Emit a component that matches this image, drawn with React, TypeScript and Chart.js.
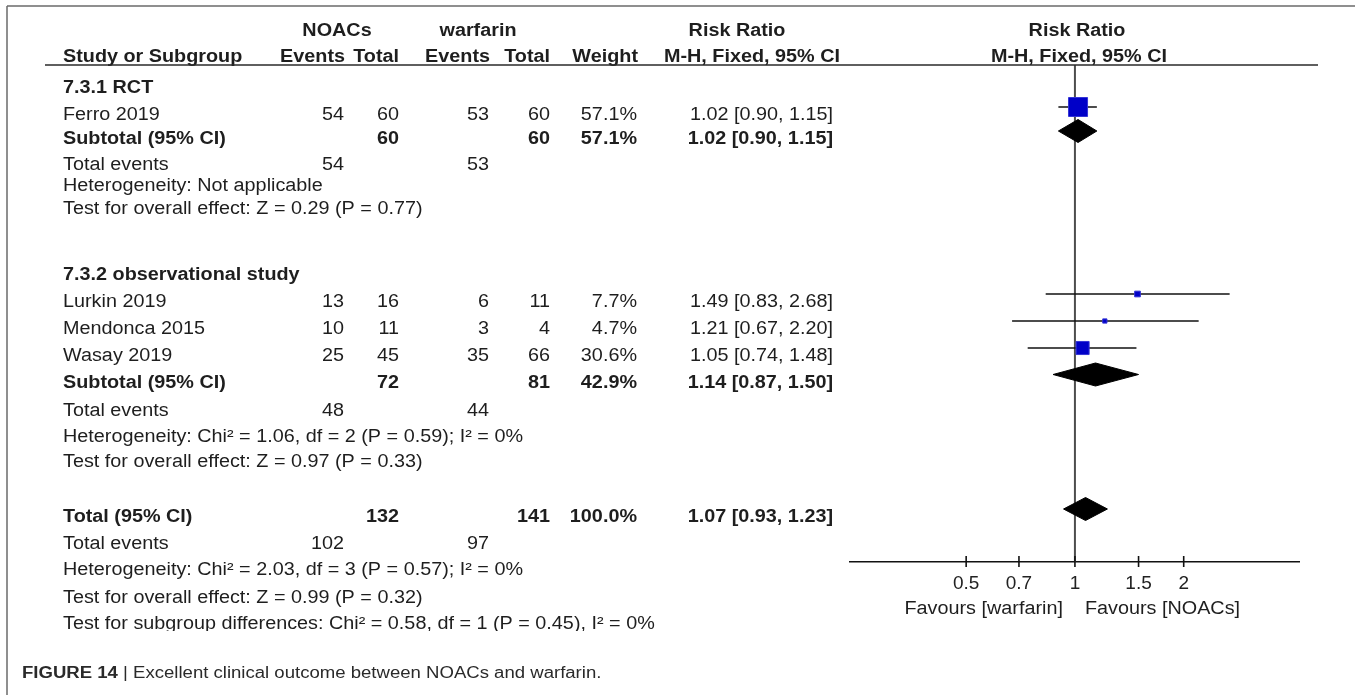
import React, { useEffect, useRef } from "react";
import { Chart, registerables } from "chart.js";

Chart.register(...registerables);

// ---------------- data ----------------
const studyNames = ["Ferro 2019", "Lurkin 2019", "Mendonca 2015", "Wasay 2019"];
const studyGroup = [0, 1, 1, 1];
const noacEvents = [54, 13, 10, 25];
const noacTotals = [60, 16, 11, 45];
const warfarinEvents = [53, 6, 3, 35];
const warfarinTotals = [60, 11, 4, 66];
const studyWeights = [57.1, 7.7, 4.7, 30.6];
const studyRR = [1.02, 1.49, 1.21, 1.05];
const studyLow = [0.9, 0.83, 0.67, 0.74];
const studyHigh = [1.15, 2.68, 2.2, 1.48];

const groupNames = ["7.3.1 RCT", "7.3.2 observational study"];
const groupNoacEvents = [54, 48];
const groupNoacTotals = [60, 72];
const groupWarfarinEvents = [53, 44];
const groupWarfarinTotals = [60, 81];
const groupWeights = [57.1, 42.9];
const groupRR = [1.02, 1.14];
const groupLow = [0.9, 0.87];
const groupHigh = [1.15, 1.5];
const groupHeterogeneity = [
  "Heterogeneity: Not applicable",
  "Heterogeneity: Chi² = 1.06, df = 2 (P = 0.59); I² = 0%",
];
const groupOverallTest = [
  "Test for overall effect: Z = 0.29 (P = 0.77)",
  "Test for overall effect: Z = 0.97 (P = 0.33)",
];

const totalNoac = [102, 132]; // events, total
const totalWarfarin = [97, 141]; // events, total
const totalWeight = [100.0];
const totalRR = [1.07, 0.93, 1.23]; // estimate, low, high
const totalTexts = [
  "Heterogeneity: Chi² = 2.03, df = 3 (P = 0.57); I² = 0%",
  "Test for overall effect: Z = 0.99 (P = 0.32)",
  "Test for subgroup differences: Chi² = 0.58, df = 1 (P = 0.45), I² = 0%",
];

const axisTicks = [0.5, 0.7, 1, 1.5, 2];
const axisLabels = ["Favours [warfarin]", "Favours [NOACs]"];
const caption = ["FIGURE 14", " | Excellent clinical outcome between NOACs and warfarin."];

// ---------------- layout (pixel rows, columns, styles) ----------------
const W = 1355;
const H = 695;
const Y_TOP = 65; // header rule / top of plot
const Y_AXIS = 562; // axis line
const AXIS_H = 40;
const X_MIN = 0.2385;
const X_MAX = 4.17;
const GROUP_HEADER_Y = [80, 266.5];
const STUDY_Y = [107, 294, 321, 348];
const GROUP_SUB_Y = [131, 374.5];
const GROUP_EVENTS_Y = [156.5, 403];
const GROUP_HET_Y = [178, 429];
const GROUP_TEST_Y = [200.5, 454];
const TOTAL_ROWS_Y = [509, 535.5, 562, 590, 616];
const TEXT_DY = 7;
const COL = { study: 63, noacEv: 344, noacTot: 399, warEv: 489, warTot: 550, weight: 637, rr: 833 };
const FONT = '"Liberation Sans", Arial, Helvetica, sans-serif';
const FS = 18;
const SX = 1.1;
const TXT = "#1e1e1e";
const DIAMOND_HALF = 11.5;

const rrText = (e: number, l: number, h: number) => `${e.toFixed(2)} [${l.toFixed(2)}, ${h.toFixed(2)}]`;
const pct = (w: number) => `${w.toFixed(1)}%`;
const squareSide = (w: number) => 19 * Math.pow(w / 57.1, 0.6);

function diamond(e: number, l: number, h: number, y: number) {
  return [
    { x: l, y },
    { x: e, y: y - DIAMOND_HALF },
    { x: h, y },
    { x: e, y: y + DIAMOND_HALF },
    { x: l, y },
  ];
}

const tablePlugin = {
  id: "forestTable",
  afterDraw(chart: any) {
    const ctx: CanvasRenderingContext2D = chart.ctx;
    const ys = chart.scales.y;
    const xs = chart.scales.x;
    const Y = (v: number) => ys.getPixelForValue(v);

    const text = (
      s: string,
      x: number,
      yc: number,
      align: CanvasTextAlign = "left",
      bold = false,
      size = FS,
      sx = SX,
      color = TXT
    ) => {
      ctx.save();
      ctx.font = `${bold ? "bold " : ""}${size}px ${FONT}`;
      ctx.fillStyle = color;
      ctx.textAlign = align;
      ctx.textBaseline = "alphabetic";
      ctx.translate(x, yc + (size * 0.716) / 2);
      ctx.scale(sx, 1);
      ctx.fillText(s, 0, 0);
      ctx.restore();
    };
    const line = (x1: number, y1: number, x2: number, y2: number, color: string, w: number) => {
      ctx.save();
      ctx.strokeStyle = color;
      ctx.lineWidth = w;
      ctx.beginPath();
      ctx.moveTo(x1, y1);
      ctx.lineTo(x2, y2);
      ctx.stroke();
      ctx.restore();
    };

    // frame
    line(7, 6, W, 6, "#6a6a6a", 1.5);
    line(7, 6, 7, H, "#6a6a6a", 1.5);

    // header
    const x1 = xs.getPixelForValue(1);
    text("NOACs", 337, 30, "center", true);
    text("warfarin", 478, 30, "center", true);
    text("Risk Ratio", 737, 30, "center", true);
    text("Risk Ratio", 1077, 30, "center", true);
    text("Study or Subgroup", COL.study, 56, "left", true);
    text("Events", COL.noacEv + 1, 56, "right", true);
    text("Total", COL.noacTot, 56, "right", true);
    text("Events", COL.warEv + 1, 56, "right", true);
    text("Total", COL.warTot, 56, "right", true);
    text("Weight", COL.weight + 1, 56, "right", true);
    text("M-H, Fixed, 95% CI", 752, 56, "center", true);
    text("M-H, Fixed, 95% CI", 1079, 56, "center", true);
    line(45, Y(Y_TOP), 1318, Y(Y_TOP), "#2a2a2a", 1.6);

    // groups
    groupNames.forEach((g, gi) => {
      text(g, COL.study, Y(GROUP_HEADER_Y[gi]) + TEXT_DY, "left", true);
      studyNames.forEach((s, si) => {
        if (studyGroup[si] !== gi) return;
        const yc = Y(STUDY_Y[si]) + TEXT_DY;
        text(s, COL.study, yc);
        text(String(noacEvents[si]), COL.noacEv, yc, "right");
        text(String(noacTotals[si]), COL.noacTot, yc, "right");
        text(String(warfarinEvents[si]), COL.warEv, yc, "right");
        text(String(warfarinTotals[si]), COL.warTot, yc, "right");
        text(pct(studyWeights[si]), COL.weight, yc, "right");
        text(rrText(studyRR[si], studyLow[si], studyHigh[si]), COL.rr, yc, "right");
      });
      const ys2 = Y(GROUP_SUB_Y[gi]) + TEXT_DY;
      text("Subtotal (95% CI)", COL.study, ys2, "left", true);
      text(String(groupNoacTotals[gi]), COL.noacTot, ys2, "right", true);
      text(String(groupWarfarinTotals[gi]), COL.warTot, ys2, "right", true);
      text(pct(groupWeights[gi]), COL.weight, ys2, "right", true);
      text(rrText(groupRR[gi], groupLow[gi], groupHigh[gi]), COL.rr, ys2, "right", true);
      const ye = Y(GROUP_EVENTS_Y[gi]) + TEXT_DY;
      text("Total events", COL.study, ye);
      text(String(groupNoacEvents[gi]), COL.noacEv, ye, "right");
      text(String(groupWarfarinEvents[gi]), COL.warEv, ye, "right");
      text(groupHeterogeneity[gi], COL.study, Y(GROUP_HET_Y[gi]) + TEXT_DY);
      text(groupOverallTest[gi], COL.study, Y(GROUP_TEST_Y[gi]) + TEXT_DY);
    });

    // overall
    const yt = Y(TOTAL_ROWS_Y[0]) + TEXT_DY;
    text("Total (95% CI)", COL.study, yt, "left", true);
    text(String(totalNoac[1]), COL.noacTot, yt, "right", true);
    text(String(totalWarfarin[1]), COL.warTot, yt, "right", true);
    text(pct(totalWeight[0]), COL.weight, yt, "right", true);
    text(rrText(totalRR[0], totalRR[1], totalRR[2]), COL.rr, yt, "right", true);
    const yte = Y(TOTAL_ROWS_Y[1]) + TEXT_DY;
    text("Total events", COL.study, yte);
    text(String(totalNoac[0]), COL.noacEv, yte, "right");
    text(String(totalWarfarin[0]), COL.warEv, yte, "right");
    text(totalTexts[0], COL.study, Y(TOTAL_ROWS_Y[2]) + TEXT_DY);
    text(totalTexts[1], COL.study, Y(TOTAL_ROWS_Y[3]) + TEXT_DY);
    // last line is clipped at its baseline in the original figure
    const yl = Y(TOTAL_ROWS_Y[4]) + TEXT_DY;
    ctx.save();
    ctx.beginPath();
    ctx.rect(0, 0, W, yl + (FS * 0.716) / 2 + 1.5);
    ctx.clip();
    text(totalTexts[2], COL.study, yl);
    ctx.restore();

    // axis tick marks
    xs.ticks.forEach((t: any) => {
      const px = xs.getPixelForValue(t.value);
      line(px, Y(Y_AXIS) - 6, px, Y(Y_AXIS) + 5, "#111", 1.6);
    });
    text(axisLabels[0], x1 - 12, 608, "right");
    text(axisLabels[1], x1 + 10, 608, "left");

    // caption
    ctx.save();
    const csz = 16;
    const csx = 1.16;
    ctx.font = `bold ${csz}px ${FONT}`;
    const bw = ctx.measureText(caption[0]).width * csx;
    ctx.restore();
    text(caption[0], 22, 672, "left", true, csz, csx, "#2a2a2a");
    text(caption[1], 22 + bw, 672, "left", false, csz, csx, "#2a2a2a");
  },
};

export default function App() {
  const ref = useRef<HTMLCanvasElement | null>(null);

  useEffect(() => {
    if (!ref.current) return;
    const datasets: any[] = [];

    // line of no effect
    datasets.push({
      data: [
        { x: 1, y: Y_TOP },
        { x: 1, y: Y_AXIS },
      ],
      showLine: true,
      borderColor: "#4d4d4d",
      borderWidth: 2,
      pointRadius: 0,
      order: 20,
    });

    // confidence intervals of studies
    studyNames.forEach((_, i) => {
      datasets.push({
        data: [
          { x: studyLow[i], y: STUDY_Y[i] },
          { x: studyHigh[i], y: STUDY_Y[i] },
        ],
        showLine: true,
        borderColor: "#111111",
        borderWidth: 1.6,
        pointRadius: 0,
        order: 10,
      });
    });

    // diamonds (subtotals and total)
    groupNames.forEach((_, g) => {
      datasets.push({
        data: diamond(groupRR[g], groupLow[g], groupHigh[g], GROUP_SUB_Y[g]),
        showLine: true,
        fill: "shape",
        backgroundColor: "#000000",
        borderColor: "#000000",
        borderWidth: 1,
        pointRadius: 0,
        order: 5,
      });
    });
    datasets.push({
      data: diamond(totalRR[0], totalRR[1], totalRR[2], TOTAL_ROWS_Y[0]),
      showLine: true,
      fill: "shape",
      backgroundColor: "#000000",
      borderColor: "#000000",
      borderWidth: 1,
      pointRadius: 0,
      order: 5,
    });

    // study squares
    datasets.push({
      data: studyRR.map((v, i) => ({ x: v, y: STUDY_Y[i] })),
      showLine: false,
      pointStyle: "rect",
      pointRadius: (c: any) => squareSide(studyWeights[c.dataIndex]) / (2 * Math.SQRT1_2),
      pointHoverRadius: (c: any) => squareSide(studyWeights[c.dataIndex]) / (2 * Math.SQRT1_2),
      backgroundColor: "#0000c8",
      borderColor: "#3535d6",
      borderWidth: 1,
      order: 1,
    });

    const chart = new Chart(ref.current, {
      type: "scatter",
      data: { datasets },
      options: {
        animation: false,
        responsive: false,
        maintainAspectRatio: false,
        devicePixelRatio: 1,
        events: [],
        layout: { padding: { left: 850, right: W - 1299, top: Y_TOP, bottom: H - Y_AXIS - AXIS_H } },
        plugins: { legend: { display: false }, tooltip: { enabled: false } },
        scales: {
          x: {
            type: "logarithmic",
            position: "bottom",
            min: X_MIN,
            max: X_MAX,
            afterBuildTicks: (s: any) => {
              s.ticks = axisTicks.map((v) => ({ value: v }));
            },
            afterFit: (s: any) => {
              s.height = AXIS_H;
            },
            grid: { display: false, drawTicks: false },
            border: { display: true, color: "#111111", width: 1.6 },
            ticks: {
              autoSkip: false,
              maxRotation: 0,
              minRotation: 0,
              padding: 10,
              color: "#222222",
              font: { family: FONT, size: 19, lineHeight: 1.2 },
              callback: (v: any) => String(v),
            },
          },
          y: { type: "linear", display: false, reverse: true, min: Y_TOP, max: Y_AXIS },
        },
      } as any,
      plugins: [tablePlugin],
    });
    return () => chart.destroy();
  }, []);

  return (
    <div style={{ position: "fixed", left: 0, top: 0, width: W, height: H, background: "#ffffff" }}>
      <canvas ref={ref} width={W} height={H} style={{ display: "block", width: W, height: H }} />
    </div>
  );
}
